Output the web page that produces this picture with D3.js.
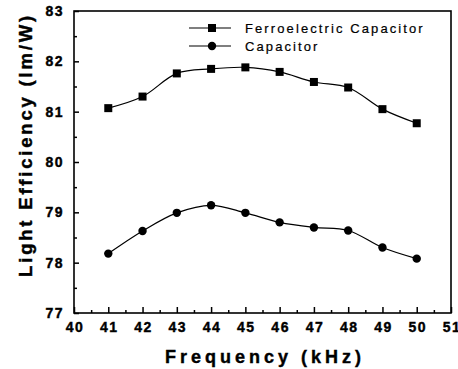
<!DOCTYPE html>
<html><head><meta charset="utf-8">
<script src="https://cdn.jsdelivr.net/npm/d3@7"></script>
<style>body{margin:0;background:#fff}svg{display:block}</style>
</head><body>
<script>
const frequency = [41,42,43,44,45,46,47,48,49,50];
const ferroCap = [81.07,81.30,81.76,81.85,81.88,81.79,81.59,81.48,81.05,80.77];
const cap = [78.18,78.63,78.99,79.14,78.99,78.80,78.70,78.64,78.30,78.08];
const xTicks = [40,41,42,43,44,45,46,47,48,49,50,51];
const yTicks = [77,78,79,80,81,82,83];
const seriesNames = ["Ferroelectric Capacitor","Capacitor"];

const W=458,H=369;
const m={left:74,top:11,right:451,bottom:313};
const svg=d3.select("body").append("svg").attr("width",W).attr("height",H);
const x=d3.scaleLinear().domain([40,51]).range([m.left,m.right]);
const y=d3.scaleLinear().domain([77,83]).range([m.bottom,m.top]);
const font="'Liberation Sans', Arial, sans-serif";

const xMinor=d3.range(40.5,51,1);
const yMinor=d3.range(77.5,83,1);

function styleLabels(g){
  g.selectAll("text").attr("font-family",font).attr("font-weight","bold").attr("font-size",14)
   .attr("letter-spacing",1.5).attr("fill","#000").attr("stroke","#000").attr("stroke-width",0.4);
}

// bottom axis
const gx=svg.append("g").attr("transform",`translate(0,${m.bottom})`)
  .call(d3.axisBottom(x).tickValues(xTicks).tickSize(-6).tickPadding(9).tickFormat(d3.format("d")));
gx.select(".domain").remove();
gx.selectAll(".tick line").attr("stroke","#000").attr("stroke-width",1.5);
styleLabels(gx);
gx.selectAll("text").attr("dx",0.5);
const gxm=svg.append("g").attr("transform",`translate(0,${m.bottom})`)
  .call(d3.axisBottom(x).tickValues(xMinor).tickSize(-3).tickFormat(""));
gxm.select(".domain").remove();
gxm.selectAll(".tick line").attr("stroke","#000").attr("stroke-width",1.5);

// left axis
const gy=svg.append("g").attr("transform",`translate(${m.left},0)`)
  .call(d3.axisLeft(y).tickValues(yTicks).tickSize(-5).tickPadding(10).tickFormat(d3.format("d")));
gy.select(".domain").remove();
gy.selectAll(".tick line").attr("stroke","#000").attr("stroke-width",1.5);
styleLabels(gy);
const gym=svg.append("g").attr("transform",`translate(${m.left},0)`)
  .call(d3.axisLeft(y).tickValues(yMinor).tickSize(-3).tickFormat(""));
gym.select(".domain").remove();
gym.selectAll(".tick line").attr("stroke","#000").attr("stroke-width",1.5);

// frame
svg.append("rect").attr("x",m.left).attr("y",m.top).attr("width",m.right-m.left).attr("height",m.bottom-m.top)
  .attr("fill","none").attr("stroke","#000").attr("stroke-width",1.6);

// lines
const line=d3.line().x(d=>x(d[0])).y(d=>y(d[1])).curve(d3.curveCatmullRom.alpha(0.5));
const s1=frequency.map((f,i)=>[f,ferroCap[i]]);
const s2=frequency.map((f,i)=>[f,cap[i]]);
svg.append("path").attr("d",line(s1)).attr("fill","none").attr("stroke","#000").attr("stroke-width",1.2);
svg.append("path").attr("d",line(s2)).attr("fill","none").attr("stroke","#000").attr("stroke-width",1.2);
svg.selectAll(".sq").data(s1).enter().append("rect")
  .attr("x",d=>x(d[0])-4).attr("y",d=>y(d[1])-4).attr("width",8).attr("height",8).attr("fill","#000");
svg.selectAll(".ci").data(s2).enter().append("circle")
  .attr("cx",d=>x(d[0])).attr("cy",d=>y(d[1])).attr("r",4.2).attr("fill","#000");

// legend
const leg=[{name:seriesNames[0],y:28,shape:"sq"},{name:seriesNames[1],y:46,shape:"ci"}];
leg.forEach(l=>{
  svg.append("line").attr("x1",189).attr("x2",231).attr("y1",l.y).attr("y2",l.y).attr("stroke","#000").attr("stroke-width",1.2);
  if(l.shape==="sq") svg.append("rect").attr("x",208).attr("y",l.y-4).attr("width",8).attr("height",8).attr("fill","#000");
  else svg.append("circle").attr("cx",212).attr("cy",l.y).attr("r",4.2).attr("fill","#000");
  svg.append("text").attr("x",245).attr("y",l.y+5).text(l.name)
    .attr("font-family",font).attr("font-size",13).attr("letter-spacing",2.1).attr("fill","#000")
    .attr("stroke","#000").attr("stroke-width",0.2);
});

// axis titles
svg.append("text").attr("x",265).attr("y",363).attr("text-anchor","middle").text("Frequency (kHz)")
  .attr("font-family",font).attr("font-weight","bold").attr("font-size",18).attr("letter-spacing",4)
  .attr("fill","#000").attr("stroke","#000").attr("stroke-width",0.4);
svg.append("text").attr("transform","translate(32,145) rotate(-90)").attr("text-anchor","middle").text("Light Efficiency (lm/W)")
  .attr("font-family",font).attr("font-weight","bold").attr("font-size",18.5).attr("letter-spacing",2.8)
  .attr("fill","#000").attr("stroke","#000").attr("stroke-width",0.4);
</script>
</body></html>
